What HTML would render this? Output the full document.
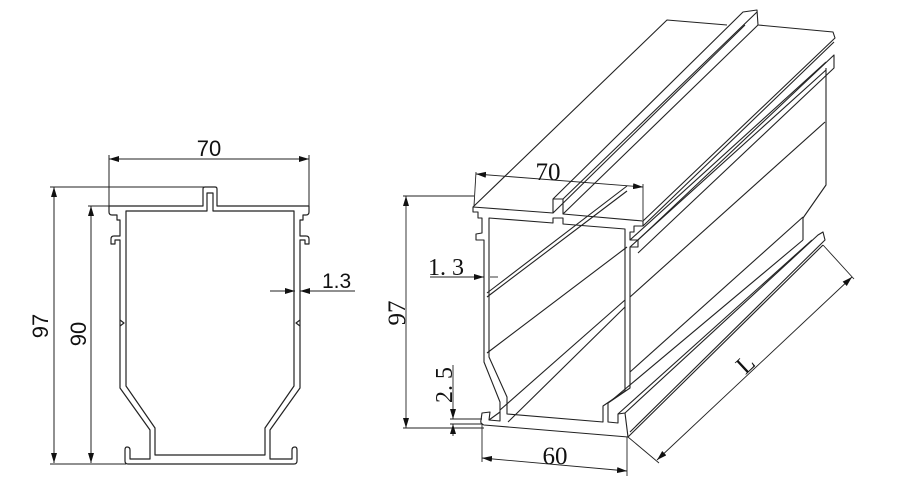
<!DOCTYPE html>
<html><head><meta charset="utf-8"><style>
html,body{margin:0;padding:0;background:#fff;}
svg{display:block;}
text{font-family:"Liberation Sans",sans-serif;fill:#111;}
.s{font-family:"Liberation Serif",serif;}
</style></head><body>
<svg width="900" height="500" viewBox="0 0 900 500" xmlns="http://www.w3.org/2000/svg">
<defs>
<marker id="a" markerWidth="10" markerHeight="6" refX="10" refY="3" orient="auto-start-reverse" markerUnits="userSpaceOnUse"><path d="M0,0 L10,3 L0,6 z" fill="#111"/></marker>
</defs>
<g fill="none" stroke="#222" stroke-width="1">
<line x1="109" y1="159" x2="309" y2="159" marker-start="url(#a)" marker-end="url(#a)"/>
<line x1="109" y1="155" x2="109" y2="212"/>
<line x1="309" y1="155" x2="309" y2="212"/>
<line x1="54" y1="187" x2="54" y2="463" marker-start="url(#a)" marker-end="url(#a)"/>
<line x1="50" y1="187" x2="205" y2="187"/>
<line x1="91" y1="206" x2="91" y2="463" marker-start="url(#a)" marker-end="url(#a)"/>
<line x1="88" y1="206" x2="109" y2="206"/>
<line x1="50" y1="464" x2="126" y2="464"/>
<line x1="270" y1="291" x2="295" y2="291" marker-end="url(#a)"/>
<line x1="355" y1="291" x2="300" y2="291" marker-end="url(#a)"/>
</g>
<g fill="none" stroke="#222" stroke-width="1.2" stroke-linejoin="round">
<path d="M109,212 L109,206 L203,206 L203,189 Q203,187 205,187 L215,187 Q217,187 217,189 L217,206 L309,206 L309,212 Q309,215 306,215 L303,215 L303,220 L300,220 L300,236 L306,236 Q309,236 309,239 L309,244 L305,244 L305,240 L300,240 L300,388 L270,430 L270,459 L292,459 L292,450 Q292,447 295,447 Q297,447 297,450 L297,461 Q297,464 294,464 L128,464 Q125,464 125,461 L125,450 Q125,447 127,447 Q130,447 130,450 L130,459 L150,459 L150,430 L120,388 L120,240 L115,240 L115,244 L111,244 L111,239 Q111,236 114,236 L120,236 L120,220 L117,220 L117,215 L112,215 Q109,215 109,212 Z"/>
<path d="M126,211 L207,211 L207,193 L213,193 L213,211 L294,211 L294,386 L265,428 L265,455 L155,455 L155,428 L126,386 Z"/>
<path d="M120,320 L124,323 L120,326 M300,320 L296,323 L300,326"/>
</g>
<text x="209" y="156" font-size="22" text-anchor="middle">70</text>
<text x="322" y="288" font-size="21">1.3</text>
<text x="0" y="0" font-size="22" text-anchor="middle" transform="translate(48,326) rotate(-90)">97</text>
<text x="0" y="0" font-size="22" text-anchor="middle" transform="translate(86,334) rotate(-90)">90</text>

<g fill="none" stroke="#222" stroke-width="1.1" stroke-linejoin="round">
<path d="M473,212 L473,207 L553,213 L553,199 L563,199 L563,214 L643,221 L643,226 L634,226 L634,232 L630,232 L630,240 L638,240 L638,247 L630,247 L630,388 L608,403 L608,422 L618,423 L618,414 L625,413 L628,437 L484,425 Q480,424 481,420 L482,413 L490,412 L489,420 L500,421 L500,402 L484,362 L484,240 L476,240 L476,234 L482,233 L482,218 L478,218 L478,212 Z"/>
<path d="M489,218 L553,223 L553,218 L563,218 L563,224 L625,229 L625,391 L603,406 L603,422 L507,414 L507,397 L489,357 Z"/>
<path d="M473,207 L667,20 L727,25"/>
<path d="M553,199 L743,12 L757,10 L758,25 L833,32 L835,38 L643,221"/>
<path d="M563,199 L757,12"/>
<path d="M563,214 L758,25"/>
<path d="M553,213 L745,25"/>
<path d="M643,226 L834,42"/>
<path d="M638,240 L834,55 L834,68 L638,253"/>
<path d="M630,240 L826,62"/>
<path d="M630,247 L826,70"/>
<path d="M826,68 L826,185 L803,218 L803,240"/>
<path d="M630,297 L825,122"/>
<path d="M630,372 L803,217"/>
<path d="M612,400 L803,240"/>
<path d="M625,413 L818,235 L823,232 L825,240 L630,432"/>
<path d="M628,437 L823,245"/>
<path d="M618,414 L812,240"/>
<path d="M487,293 L627,186"/>
<path d="M487,297 L627,191"/>
<path d="M487,353 L627,247"/>
<path d="M508,422 L625,307"/>
<path d="M500,410 L625,300"/>
<path d="M489,420 L500,412"/>
</g>
<g fill="none" stroke="#222" stroke-width="0.9">
<line x1="476" y1="174" x2="643" y2="187" marker-start="url(#a)" marker-end="url(#a)"/>
<line x1="476" y1="172" x2="474" y2="206"/>
<line x1="643" y1="184" x2="643" y2="220"/>
<line x1="406" y1="196" x2="406" y2="428" marker-start="url(#a)" marker-end="url(#a)"/>
<line x1="403" y1="196" x2="474" y2="196"/>
<line x1="403" y1="428" x2="484" y2="428"/>
<line x1="430" y1="277" x2="484" y2="277" marker-end="url(#a)"/>
<line x1="498" y1="277" x2="490" y2="277"/>
<line x1="453" y1="365" x2="453" y2="419" marker-end="url(#a)"/>
<line x1="453" y1="436" x2="453" y2="424" marker-end="url(#a)"/>
<line x1="450" y1="419" x2="482" y2="419"/>
<line x1="450" y1="424" x2="482" y2="424"/>
<line x1="482" y1="458" x2="627" y2="471" marker-start="url(#a)" marker-end="url(#a)"/>
<line x1="482" y1="423" x2="482" y2="462"/>
<line x1="627" y1="437" x2="627" y2="476"/>
<line x1="657" y1="460" x2="852" y2="277" marker-start="url(#a)" marker-end="url(#a)"/>
<line x1="628" y1="437" x2="659" y2="463"/>
<line x1="823" y1="245" x2="854" y2="279"/>
</g>
<text class="s" x="548" y="180" font-size="25" text-anchor="middle">70</text>
<text class="s" x="428" y="275" font-size="24">1. 3</text>
<text class="s" x="555" y="464" font-size="25" text-anchor="middle">60</text>
<text class="s" x="0" y="0" font-size="25" text-anchor="middle" transform="translate(405,313) rotate(-90)">97</text>
<text class="s" x="0" y="0" font-size="24" text-anchor="middle" transform="translate(452,385) rotate(-90)">2. 5</text>
<text class="s" x="0" y="0" font-size="25" text-anchor="middle" transform="translate(751,370) rotate(-43)">L</text>
</svg>
</body></html>
